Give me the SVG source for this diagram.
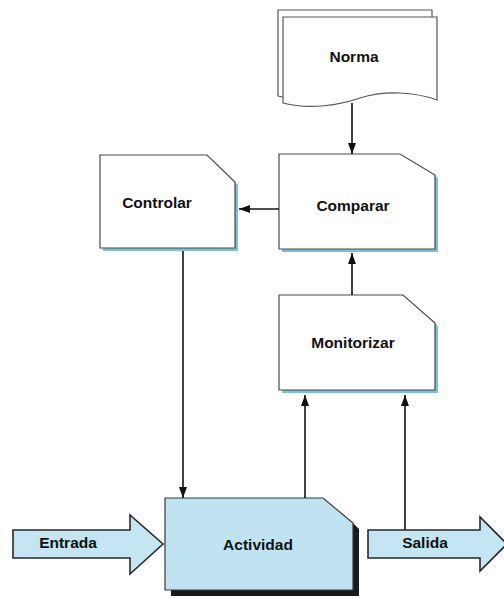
<svg xmlns="http://www.w3.org/2000/svg" width="504" height="598" viewBox="0 0 504 598">
  <style>
    .box { fill: #ffffff; stroke: #4a4a4a; stroke-width: 1.2; }
    .shadow { fill: #7dbfd6; }
    .dark { fill: #1a1a1a; }
    .act { fill: #bfe3f1; stroke: #3a3a3a; stroke-width: 1.2; }
    .io { fill: #c4e5f2; stroke: #2a2a2a; stroke-width: 1.6; stroke-linejoin: miter; }
    .sheet { fill: #ffffff; stroke: #555555; stroke-width: 1.2; }
    .lbl { font-family: "Liberation Sans", Arial, sans-serif; font-weight: bold; font-size: 15.5px; fill: #111111; text-anchor: middle; }
    .conn { stroke: #111111; stroke-width: 1.6; fill: none; marker-end: url(#head); }
  </style>
  <defs>
    <marker id="head" markerUnits="userSpaceOnUse" markerWidth="11" markerHeight="8" refX="11" refY="4" orient="auto">
      <path d="M0,0 L11,4 L0,8 Z" fill="#111111"/>
    </marker>
  </defs>

  <rect width="504" height="598" fill="#ffffff"/>

  <!-- Norma: stacked document -->
  <g id="norma">
    <path class="sheet" d="M278,10 H432 V93 C410,85 380,83 355,91 C335,98 305,103 278,96 Z"/>
    <path class="sheet" d="M283,17 H437 V100 C415,92 385,90 360,98 C340,105 310,110 283,103 Z"/>
    <text class="lbl" x="354" y="62">Norma</text>
  </g>

  <!-- Comparar -->
  <g id="comparar">
    <path class="shadow" d="M435,175 L438,178 V252 H282 V249 H435 Z"/>
    <path class="box" d="M279,154 H400 L435,175 V249 H279 Z"/>
    <text class="lbl" x="353" y="211">Comparar</text>
  </g>

  <!-- Controlar -->
  <g id="controlar">
    <path class="shadow" d="M235,182 L238,185 V251 H103 V248 H235 Z"/>
    <path class="box" d="M100,155 H207 L235,182 V248 H100 Z"/>
    <text class="lbl" x="157" y="208">Controlar</text>
  </g>

  <!-- Monitorizar -->
  <g id="monitorizar">
    <path class="shadow" d="M435,323 L438,326 V393 H282 V390 H435 Z"/>
    <path class="box" d="M279,295 H403 L435,323 V390 H279 Z"/>
    <text class="lbl" x="353" y="348">Monitorizar</text>
  </g>

  <!-- Actividad -->
  <g id="actividad">
    <path class="dark" d="M353,523 L359,529 V596 H171 V590 H353 Z"/>
    <path class="act" d="M165,498 H323 L353,523 V590 H165 Z"/>
    <text class="lbl" x="258" y="550">Actividad</text>
  </g>

  <!-- Entrada -->
  <g id="entrada">
    <path class="io" d="M13,530 H130 V515 L163,544 L130,574 V558 H13 Z"/>
    <text class="lbl" x="68" y="548">Entrada</text>
  </g>

  <!-- Salida -->
  <g id="salida">
    <path class="io" d="M368,530 H480 V517 L507,544 L480,571 V558 H368 Z"/>
    <text class="lbl" x="425" y="548">Salida</text>
  </g>

  <!-- Connectors -->
  <g id="connectors">
    <line class="conn" x1="352" y1="103" x2="352" y2="154"/>
    <line class="conn" x1="279" y1="209" x2="239" y2="209"/>
    <line class="conn" x1="352" y1="295" x2="352" y2="253"/>
    <line class="conn" x1="183" y1="251" x2="183" y2="498"/>
    <line class="conn" x1="305" y1="498" x2="305" y2="395"/>
    <line class="conn" x1="405" y1="530" x2="405" y2="395"/>
  </g>
</svg>
